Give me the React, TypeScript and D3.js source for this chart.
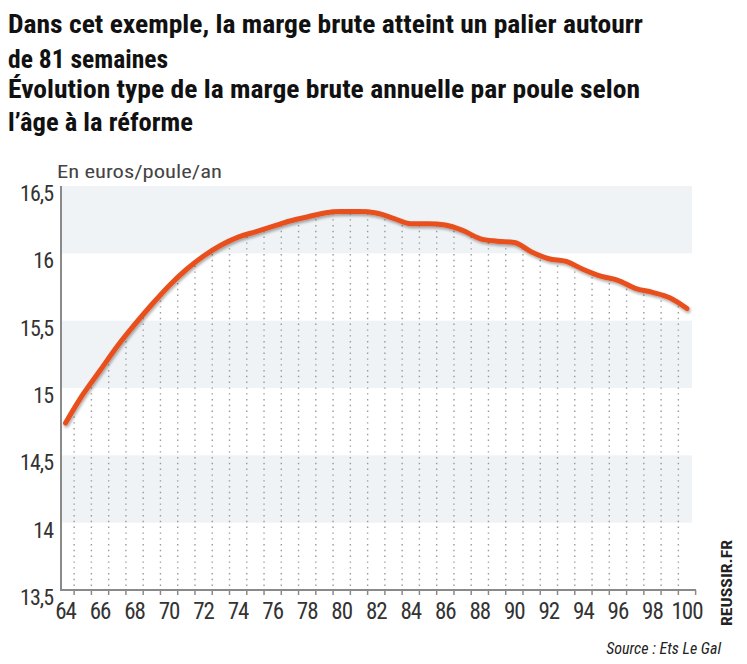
import * as d3 from "d3";

// semaines d'âge à la réforme
const weeks = [
  64, 65, 66, 67, 68, 69, 70, 71, 72, 73, 74, 75, 76, 77, 78, 79, 80, 81, 82,
  83, 84, 85, 86, 87, 88, 89, 90, 91, 92, 93, 94, 95, 96, 97, 98, 99, 100,
];
// marge brute, euros/poule/an
const margin_values = [
  14.74, 14.95, 15.13, 15.31, 15.47, 15.62, 15.76, 15.88, 15.98, 16.06, 16.12,
  16.16, 16.2, 16.24, 16.27, 16.3, 16.31, 16.31, 16.3, 16.26, 16.22, 16.22,
  16.21, 16.17, 16.11, 16.09, 16.08, 16.01, 15.96, 15.94, 15.88, 15.83, 15.8,
  15.74, 15.71, 15.67, 15.59,
];
const yTicks = [13.5, 14, 14.5, 15, 15.5, 16, 16.5];
const xLabels = [64, 66, 68, 70, 72, 74, 76, 78, 80, 82, 84, 86, 88, 90, 92, 94, 96, 98, 100];
const bands: [number, number][] = [
  [14, 14.5],
  [15, 15.5],
  [16, 16.5],
];
const titleLines = [
  "Dans cet exemple, la marge brute atteint un palier autourr",
  "de 81 semaines",
  "Évolution type de la marge brute annuelle par poule selon",
  "l’âge à la réforme",
];

const W = 747;
const H = 664;
const left = 61;
const right = 692;
const top = 186;
const bottom = 590;
const cond = "'Liberation Sans Narrow', 'Roboto Condensed', Roboto, sans-serif";

export default function App() {
  const x = d3.scaleLinear().domain([64, 100]).range([65.5, 687]);
  const y = d3.scaleLinear().domain([13.5, 16.5]).range([bottom, top]);
  const series = weeks.map((w, i) => ({ w, v: margin_values[i] }));

  const line = d3
    .line<{ w: number; v: number }>()
    .x((d) => x(d.w))
    .y((d) => y(d.v))
    .curve(d3.curveMonotoneX);
  const area = d3
    .area<{ w: number; v: number }>()
    .x((d) => x(d.w))
    .y0(bottom)
    .y1((d) => y(d.v))
    .curve(d3.curveMonotoneX);

  const halfSteps = d3.range(64.5, 100, 1);
  const tickSteps = d3.range(64.5, 101, 1);

  const titleFit = [
    { end: 643, base: 33 },
    { end: 168, base: 68 },
    { end: 640, base: 98 },
    { end: 193, base: 131 },
  ];

  return (
    <svg
      width={W}
      height={H}
      viewBox={`0 0 ${W} ${H}`}
      style={{ position: "absolute", left: 0, top: 0, background: "#fff" }}
    >
      <defs>
        <clipPath id="under">
          <path d={area(series) || ""} />
        </clipPath>
        <filter id="shadow" x="-5%" y="-20%" width="110%" height="140%">
          <feGaussianBlur in="SourceAlpha" stdDeviation="1.6" />
          <feOffset dx="1" dy="2" result="b" />
          <feComponentTransfer>
            <feFuncA type="linear" slope="0.35" />
          </feComponentTransfer>
          <feMerge>
            <feMergeNode />
            <feMergeNode in="SourceGraphic" />
          </feMerge>
        </filter>
      </defs>

      {/* titre */}
      {titleLines.map((t, i) => (
        <text
          key={i}
          x={8}
          y={titleFit[i].base}
          textLength={titleFit[i].end - 8}
          lengthAdjust="spacingAndGlyphs"
          fontFamily={cond}
          fontWeight="bold"
          fontSize={25}
          fill="#111"
        >
          {t}
        </text>
      ))}

      <text
        x={57}
        y={178}
        textLength={165}
        lengthAdjust="spacingAndGlyphs"
        fontFamily={cond}
        fontSize={19}
        fill="#444"
      >
        En euros/poule/an
      </text>

      {/* bandes */}
      {bands.map(([a, b], i) => (
        <rect key={i} x={left} y={y(b)} width={right - left} height={y(a) - y(b)} fill="#eff3f5" />
      ))}

      {/* pointillés sous la courbe */}
      <g clipPath="url(#under)">
        {halfSteps.map((s) => (
          <line
            key={s}
            x1={x(s)}
            x2={x(s)}
            y1={bottom - 4}
            y2={top}
            stroke="#9a9a9a"
            strokeWidth={1.4}
            strokeDasharray="1.4 4.4"
          />
        ))}
      </g>

      {/* axes */}
      <line x1={left} x2={left} y1={top} y2={bottom} stroke="#8a8a8a" strokeWidth={2} />
      <line x1={left - 1} x2={696} y1={bottom} y2={bottom} stroke="#8a8a8a" strokeWidth={2} />
      {tickSteps.map((s) => (
        <line key={s} x1={x(s)} x2={x(s)} y1={bottom} y2={bottom + 5} stroke="#8a8a8a" strokeWidth={1.5} />
      ))}

      {yTicks.map((t) => (
        <text
          key={t}
          x={53}
          y={y(t) + 15}
          textAnchor="end"
          fontFamily={cond}
          fontSize={22}
          fill="#333"
          letterSpacing={-1}
        >
          {String(t).replace(".", ",")}
        </text>
      ))}
      {xLabels.map((t) => (
        <text
          key={t}
          x={x(t)}
          y={619}
          textAnchor="middle"
          fontFamily={cond}
          fontSize={23}
          fill="#333"
          letterSpacing={-1}
        >
          {t}
        </text>
      ))}

      {/* courbe */}
      <path
        d={line(series) || ""}
        fill="none"
        stroke="#e8501c"
        strokeWidth={5}
        strokeLinecap="round"
        strokeLinejoin="round"
        filter="url(#shadow)"
      />

      <text
        transform="translate(732,626) rotate(-90)"
        textLength={86}
        lengthAdjust="spacingAndGlyphs"
        fontFamily={cond}
        fontWeight="bold"
        fontSize={15}
        fill="#222"
      >
        REUSSIR.FR
      </text>
      <text
        x={721}
        y={654}
        textAnchor="end"
        fontFamily={cond}
        fontStyle="italic"
        fontSize={16}
        fill="#222"
      >
        Source : Ets Le Gal
      </text>
    </svg>
  );
}
